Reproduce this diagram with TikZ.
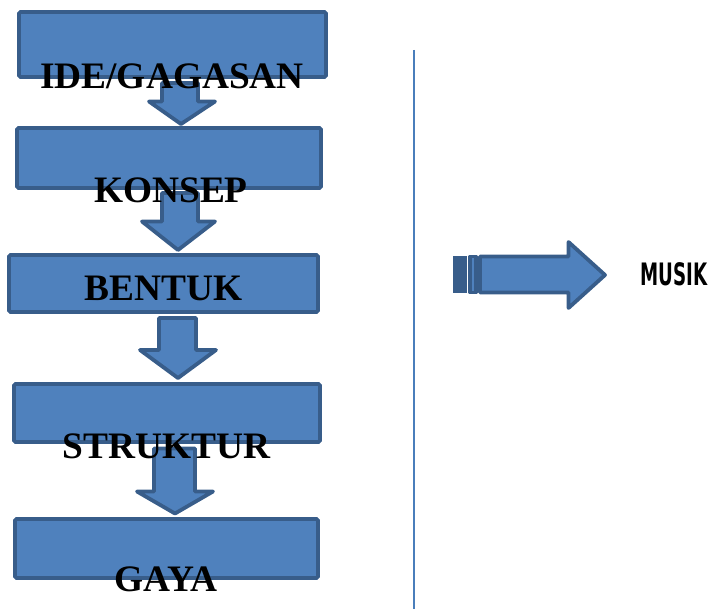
\documentclass[tikz,border=0pt]{standalone}
\usepackage{fontspec}
\setmainfont{Liberation Serif}
\newfontfamily\musikfont{DejaVu Sans}
\definecolor{boxfill}{HTML}{4F81BD}
\definecolor{boxline}{HTML}{385D8A}
\definecolor{vline}{HTML}{4A7EBB}
\tikzset{
  box/.style={draw=boxline, fill=boxfill, line width=3.8bp, rounded corners=1.5bp, inner sep=0pt},
  downarrow/.style={draw=boxline, fill=boxfill, line width=3.8bp, line join=round},
  label/.style={font=\bfseries\fontsize{37.5}{40}\selectfont, anchor=base, inner sep=0pt, text=black}
}
\begin{document}
\begin{tikzpicture}[x=1bp,y=-1bp]
\useasboundingbox (0,0) rectangle (710,609);
% boxes
\node[box, minimum width=307bp, minimum height=65bp] (b1) at (172.5,44.5) {};
\node[box, minimum width=304bp, minimum height=60bp] (b2) at (169,158) {};
\node[box, minimum width=309bp, minimum height=57bp] (b3) at (163.5,283.5) {};
\node[box, minimum width=306bp, minimum height=58bp] (b4) at (167,413) {};
\node[box, minimum width=303bp, minimum height=59bp] (b5) at (166.5,548.5) {};
% down arrows
\draw[downarrow] (162,83) -- (162,101.5) -- (149,101.5) -- (181,124) -- (215,101.5) -- (198,101.5) -- (198,83) -- cycle;
\draw[downarrow] (162,193) -- (162,221.5) -- (142,221.5) -- (178,250) -- (215,221.5) -- (198,221.5) -- (198,193) -- cycle;
\draw[downarrow] (159,318) -- (159,350) -- (140,350) -- (178,378) -- (216,350) -- (196,350) -- (196,318) -- cycle;
\draw[downarrow] (154,448.5) -- (154,491.5) -- (137,491.5) -- (175,513.5) -- (213,491.5) -- (195,491.5) -- (195,448.5) -- cycle;
% labels
\node[label] (t1) at (172,89) {IDE/GAGASAN};
\node[label] (t2) at (171,203) {KONSEP};
\node[label] (t3) at (163.5,300) {BENTUK};
\node[label] (t4) at (166.5,458) {STRUKTUR};
\node[label] (t5) at (166,591) {GAYA};
% vertical divider
\coordinate (vtop) at (414,50);
\coordinate (vbot) at (414,609);
\draw[vline, line width=1.6bp] (vtop) -- (vbot);
% striped right arrow
\fill[boxline] (453,256) rectangle (467,293);
\draw[downarrow] (470,256.5) rectangle (476,292.5);
\draw[downarrow] (480,256.5) -- (568.5,256.5) -- (568.5,242) -- (605,275) -- (568.5,308) -- (568.5,292.5) -- (480,292.5) -- cycle;
\node[anchor=base west, inner sep=0pt] (musik) at (640,285) {\scalebox{0.59}[1]{\musikfont\bfseries\fontsize{31}{34}\selectfont MUSIK}};
\end{tikzpicture}
\end{document}
